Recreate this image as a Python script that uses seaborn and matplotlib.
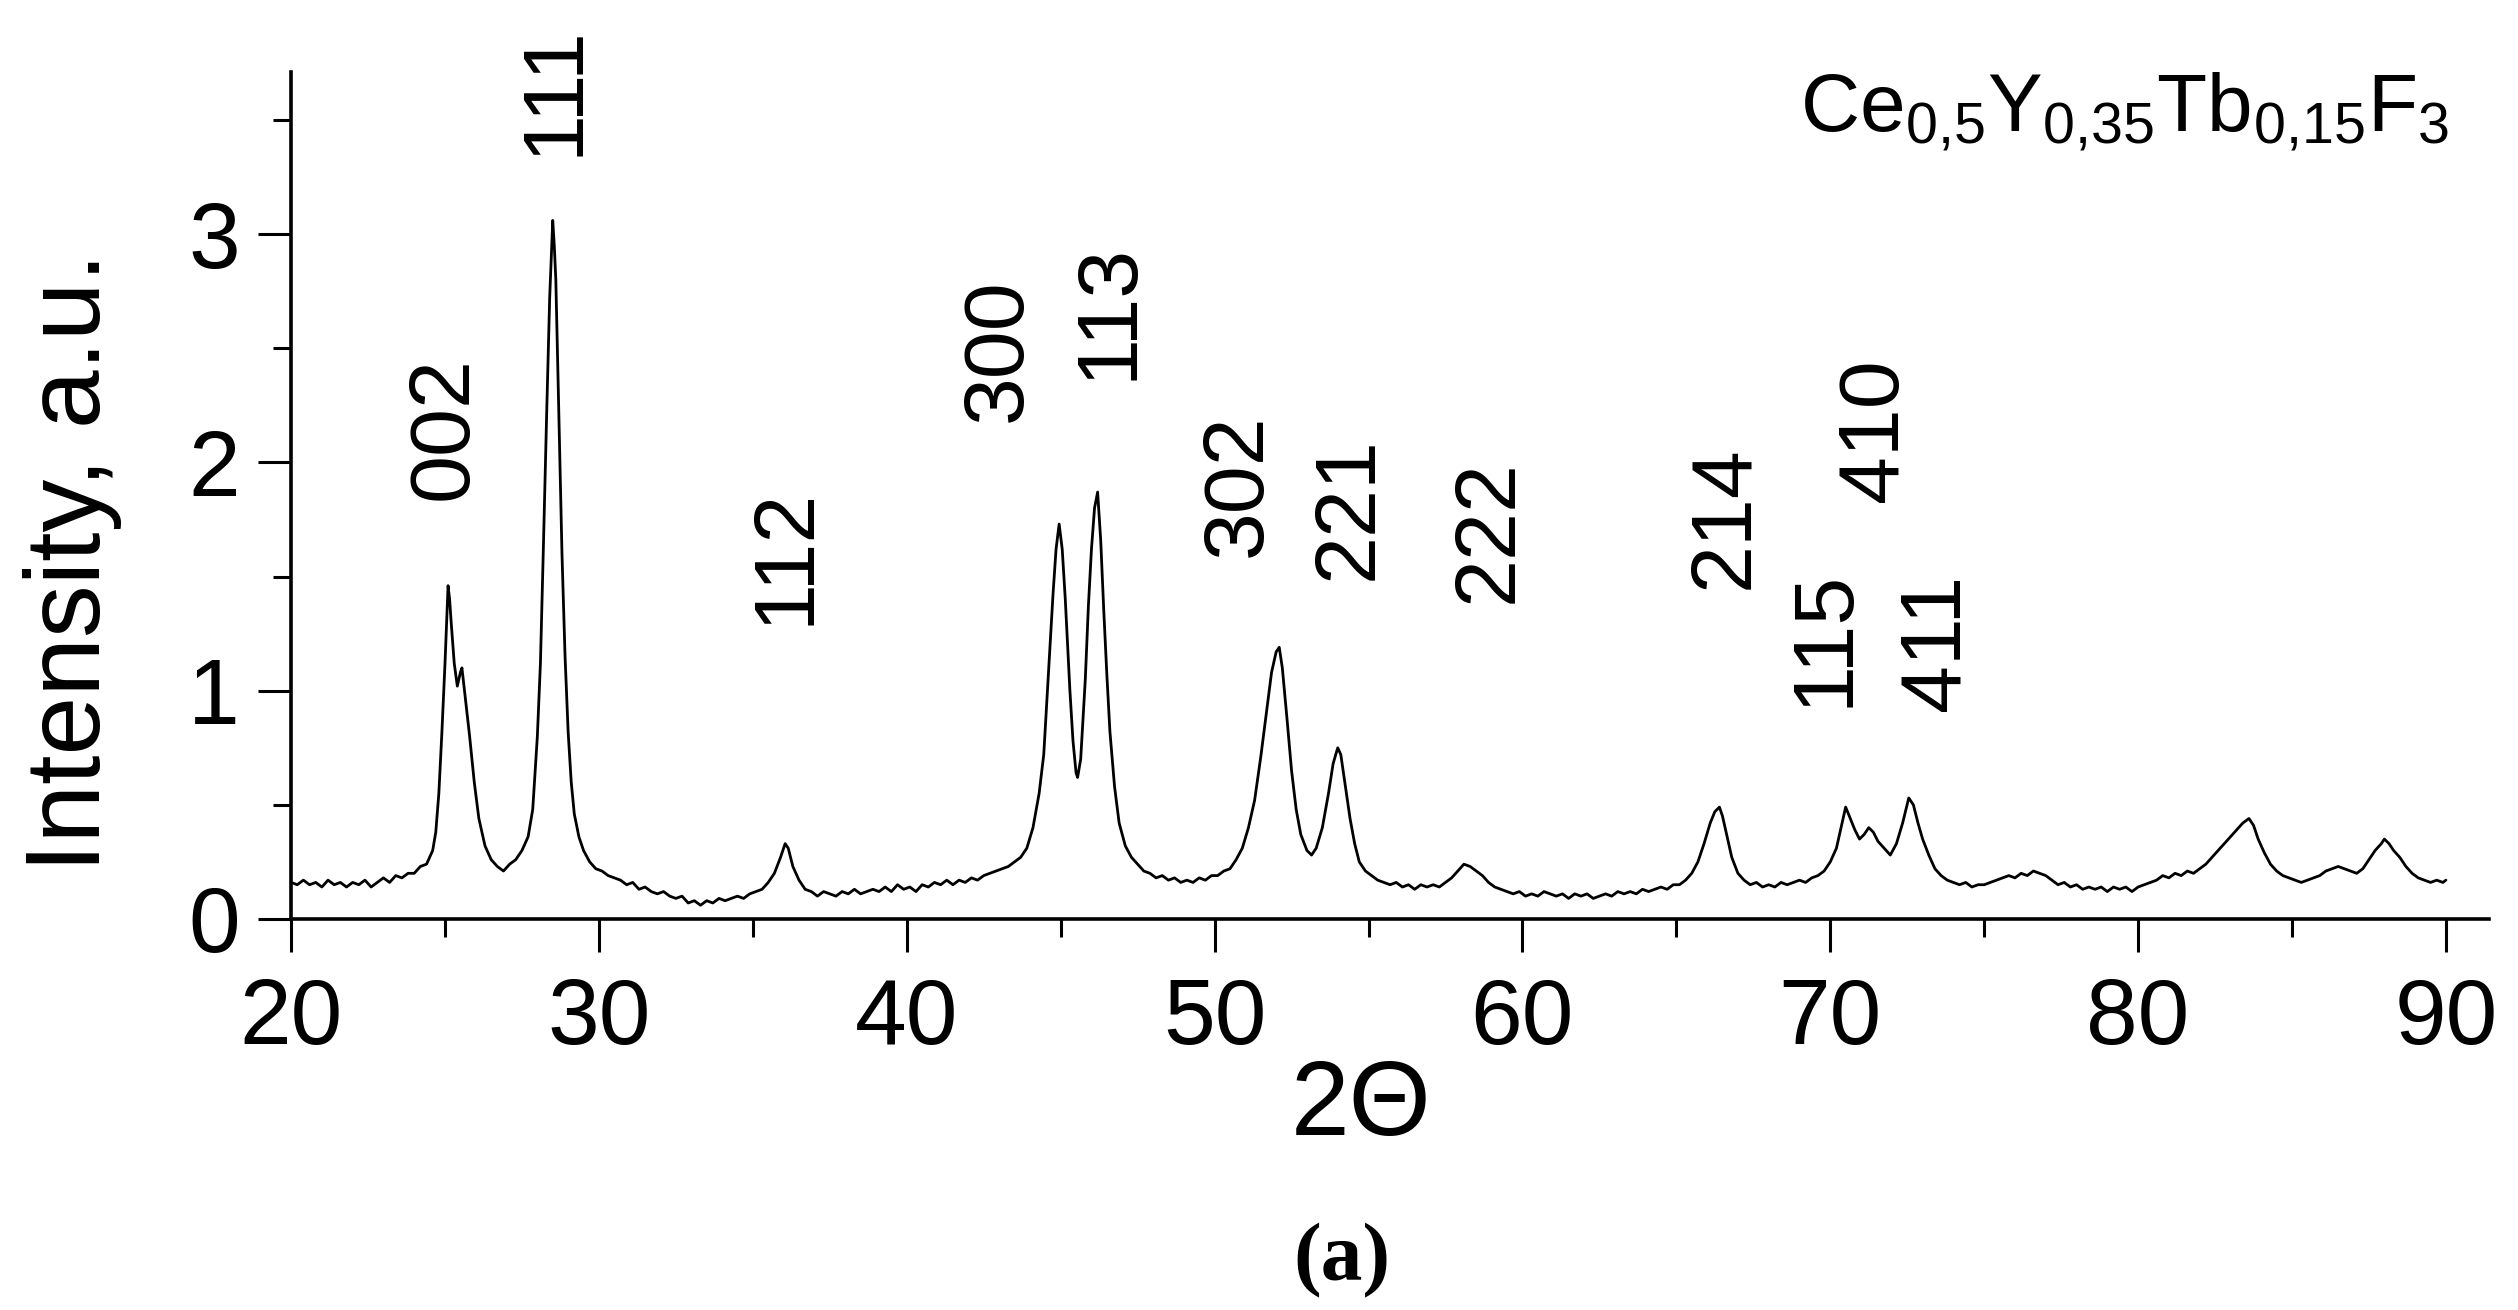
import seaborn as sns
import matplotlib.pyplot as plt
from matplotlib.ticker import MultipleLocator

# XRD pattern (2theta in degrees, intensity in a.u.)
two_theta = [
    # baseline 20-24.6
    20.0, 20.2, 20.4, 20.6, 20.8, 21.0, 21.2, 21.4, 21.6, 21.8, 22.0, 22.2,
    22.4, 22.6, 22.8, 23.0, 23.2, 23.4, 23.6, 23.8, 24.0, 24.2, 24.4, 24.6,
    # 002 doublet
    24.7, 24.8, 24.9, 25.0, 25.1, 25.15, 25.2, 25.3, 25.4, 25.5, 25.55, 25.65,
    25.8, 25.95, 26.1, 26.3, 26.5, 26.7, 26.9,
    # 111
    27.1, 27.3, 27.5, 27.7, 27.85, 28.0, 28.1, 28.2, 28.3, 28.4, 28.5, 28.55,
    28.6, 28.7, 28.8, 28.9, 29.0, 29.1, 29.2, 29.35, 29.5, 29.7, 29.9,
    # baseline 30-35.5
    30.1, 30.3, 30.5, 30.7, 30.9, 31.1, 31.3, 31.5, 31.7, 31.9, 32.1, 32.3,
    32.5, 32.7, 32.9, 33.1, 33.3, 33.5, 33.7, 33.9, 34.1, 34.3, 34.5, 34.7,
    34.9, 35.1, 35.3, 35.5,
    # 112
    35.7, 35.9, 36.05, 36.15, 36.3, 36.5, 36.7, 36.9,
    # baseline 37-44
    37.1, 37.3, 37.5, 37.7, 37.9, 38.1, 38.3, 38.5, 38.7, 38.9, 39.1, 39.3,
    39.5, 39.7, 39.9, 40.1, 40.3, 40.5, 40.7, 40.9, 41.1, 41.3, 41.5, 41.7,
    41.9, 42.1, 42.3, 42.5, 42.7, 42.9, 43.1, 43.3, 43.5, 43.7, 43.9,
    # 300 / 113
    44.1, 44.3, 44.45, 44.6, 44.75, 44.85, 44.95, 45.05, 45.15, 45.3, 45.4,
    45.5, 45.55, 45.65, 45.8, 45.9, 46.0, 46.1, 46.2, 46.3, 46.4, 46.5, 46.6,
    46.75, 46.9, 47.1, 47.3, 47.5, 47.7, 47.9,
    # baseline 48-51
    48.1, 48.3, 48.5, 48.7, 48.9, 49.1, 49.3, 49.5, 49.7, 49.9, 50.1, 50.3,
    50.5, 50.7, 50.9,
    # 302 / 221
    51.1, 51.3, 51.5, 51.7, 51.85, 52.0, 52.1, 52.2, 52.35, 52.5, 52.65, 52.8,
    53.0, 53.15, 53.3, 53.5, 53.7, 53.85, 54.0, 54.1, 54.25, 54.4, 54.55,
    54.7, 54.9,
    # 222 and baseline to 65
    55.1, 55.3, 55.5, 55.7, 55.9, 56.1, 56.3, 56.5, 56.7, 56.9, 57.1, 57.3,
    57.5, 57.7, 57.9, 58.1, 58.3, 58.5, 58.7, 58.9, 59.1, 59.3, 59.5, 59.7,
    59.9, 60.1, 60.3, 60.5, 60.7, 60.9, 61.1, 61.3, 61.5, 61.7, 61.9, 62.1,
    62.3, 62.5, 62.7, 62.9, 63.1, 63.3, 63.5, 63.7, 63.9, 64.1, 64.3, 64.5,
    64.7, 64.9, 65.1, 65.3,
    # 214
    65.5, 65.7, 65.9, 66.1, 66.25, 66.4, 66.5, 66.65, 66.8, 67.0, 67.2,
    # baseline 67-70
    67.4, 67.6, 67.8, 68.0, 68.2, 68.4, 68.6, 68.8, 69.0, 69.2, 69.4, 69.6,
    69.8,
    # 115 / 410 / 411
    70.0, 70.2, 70.35, 70.5, 70.65, 70.8, 70.95, 71.1, 71.25, 71.4, 71.55,
    71.75, 71.95, 72.15, 72.35, 72.55, 72.7, 72.85, 73.0, 73.2, 73.4, 73.6,
    73.8,
    # baseline 74-82
    74.0, 74.2, 74.4, 74.6, 74.8, 75.0, 75.2, 75.4, 75.6, 75.8, 76.0, 76.2,
    76.4, 76.6, 76.8, 77.0, 77.2, 77.4, 77.6, 77.8, 78.0, 78.2, 78.4, 78.6,
    78.8, 79.0, 79.2, 79.4, 79.6, 79.8, 80.0, 80.2, 80.4, 80.6, 80.8, 81.0,
    81.2, 81.4, 81.6, 81.8, 82.0,
    # tail 82-90
    82.2, 82.4, 82.6, 82.8, 83.0, 83.2, 83.4, 83.6, 83.75, 83.9, 84.1, 84.3,
    84.5, 84.7, 84.9, 85.1, 85.3, 85.5, 85.7, 85.9, 86.1, 86.3, 86.5, 86.7,
    86.9, 87.1, 87.3, 87.5, 87.7, 87.9, 88.0, 88.15, 88.3, 88.5, 88.7, 88.9,
    89.1, 89.3, 89.5, 89.7, 89.9, 90.0,
]

intensity = [
    # baseline 20-24.6
    0.16, 0.15, 0.17, 0.15, 0.16, 0.14, 0.17, 0.15, 0.16, 0.14, 0.16, 0.15,
    0.17, 0.14, 0.16, 0.18, 0.16, 0.19, 0.18, 0.20, 0.20, 0.23, 0.24, 0.30,
    # 002 doublet
    0.38, 0.55, 0.82, 1.12, 1.46, 1.40, 1.30, 1.12, 1.02, 1.08, 1.10, 0.98,
    0.80, 0.60, 0.44, 0.32, 0.26, 0.23, 0.21,
    # 111
    0.24, 0.26, 0.30, 0.36, 0.48, 0.80, 1.12, 1.65, 2.20, 2.72, 3.06, 2.95,
    2.80, 2.20, 1.60, 1.15, 0.82, 0.60, 0.46, 0.36, 0.30, 0.25, 0.22,
    # baseline 30-35.5
    0.21, 0.19, 0.18, 0.17, 0.15, 0.16, 0.13, 0.14, 0.12, 0.11, 0.12, 0.10,
    0.09, 0.10, 0.07, 0.08, 0.06, 0.08, 0.07, 0.09, 0.08, 0.09, 0.10, 0.09,
    0.11, 0.12, 0.13, 0.16,
    # 112
    0.20, 0.27, 0.33, 0.31, 0.23, 0.17, 0.13, 0.12,
    # baseline 37-44
    0.10, 0.12, 0.11, 0.10, 0.12, 0.11, 0.13, 0.11, 0.12, 0.13, 0.12, 0.14,
    0.12, 0.15, 0.13, 0.14, 0.12, 0.15, 0.14, 0.16, 0.15, 0.17, 0.15, 0.17,
    0.16, 0.18, 0.17, 0.19, 0.20, 0.21, 0.22, 0.23, 0.25, 0.27, 0.31,
    # 300 / 113
    0.40, 0.55, 0.72, 1.07, 1.42, 1.62, 1.73, 1.62, 1.40, 1.00, 0.78,
    0.64, 0.62, 0.70, 1.05, 1.37, 1.62, 1.80, 1.87, 1.66, 1.35, 1.07, 0.82,
    0.58, 0.42, 0.32, 0.27, 0.24, 0.21, 0.20,
    # baseline 48-51
    0.18, 0.19, 0.17, 0.18, 0.16, 0.17, 0.16, 0.18, 0.17, 0.19, 0.19, 0.21,
    0.22, 0.26, 0.31,
    # 302 / 221
    0.40, 0.52, 0.71, 0.92, 1.08, 1.17, 1.19, 1.10, 0.88, 0.65, 0.48, 0.37,
    0.30, 0.28, 0.31, 0.40, 0.55, 0.68, 0.75, 0.72, 0.58, 0.44, 0.33,
    0.25, 0.21,
    # 222 and baseline to 65
    0.19, 0.17, 0.16, 0.15, 0.16, 0.14, 0.15, 0.13, 0.15, 0.14, 0.15, 0.14,
    0.16, 0.18, 0.21, 0.24, 0.23, 0.21, 0.19, 0.16, 0.14, 0.13, 0.12, 0.11,
    0.12, 0.10, 0.11, 0.10, 0.12, 0.11, 0.10, 0.11, 0.09, 0.11, 0.10, 0.11,
    0.09, 0.10, 0.11, 0.10, 0.12, 0.11, 0.12, 0.11, 0.13, 0.12, 0.13, 0.14,
    0.13, 0.15, 0.15, 0.17,
    # 214
    0.20, 0.25, 0.33, 0.42, 0.47, 0.49, 0.45, 0.36, 0.27, 0.20, 0.17,
    # baseline 67-70
    0.15, 0.16, 0.14, 0.15, 0.14, 0.16, 0.15, 0.16, 0.17, 0.16, 0.18, 0.19,
    0.21,
    # 115 / 410 / 411
    0.25, 0.31, 0.40, 0.49, 0.44, 0.39, 0.35, 0.37, 0.40, 0.38, 0.34,
    0.31, 0.28, 0.33, 0.42, 0.53, 0.50, 0.42, 0.35, 0.28, 0.22, 0.19,
    0.17,
    # baseline 74-82
    0.16, 0.15, 0.16, 0.14, 0.15, 0.15, 0.16, 0.17, 0.18, 0.19, 0.18, 0.20,
    0.19, 0.21, 0.20, 0.19, 0.17, 0.15, 0.16, 0.14, 0.15, 0.13, 0.14, 0.13,
    0.14, 0.12, 0.14, 0.13, 0.14, 0.12, 0.14, 0.15, 0.16, 0.17, 0.19, 0.18,
    0.20, 0.19, 0.21, 0.20, 0.22,
    # tail 82-90
    0.24, 0.27, 0.30, 0.33, 0.36, 0.39, 0.42, 0.44, 0.41, 0.35, 0.29, 0.24,
    0.21, 0.19, 0.18, 0.17, 0.16, 0.17, 0.18, 0.19, 0.21, 0.22, 0.23, 0.22,
    0.21, 0.20, 0.22, 0.26, 0.30, 0.33, 0.35, 0.33, 0.30, 0.27, 0.23, 0.20,
    0.18, 0.17, 0.16, 0.17, 0.16, 0.17,
]

# Miller indices written over the peaks (text centre in data coords)
peak_labels = ['002', '111', '112', '300', '113', '302', '221', '222',
               '214', '115', '410', '411']
label_x = [25.0, 28.6, 36.1, 43.0, 46.6, 50.8, 54.4, 58.95,
           66.6, 69.85, 71.45, 73.45]
label_y = [2.15, 3.63, 1.59, 2.49, 2.66, 1.90, 1.80, 1.70,
           1.76, 1.23, 2.14, 1.21]

sample = r'Ce$_{0{,}5}$Y$_{0{,}35}$Tb$_{0{,}15}$F$_3$'

sns.set_theme(style='ticks')
# set fonts after set_theme, otherwise it gets reset
plt.rcParams['font.family'] = ['Liberation Sans', 'DejaVu Sans']
plt.rcParams['mathtext.default'] = 'regular'

fig = plt.figure(figsize=(25.18, 13.10), dpi=100)
ax = fig.add_axes([0.1156, 0.2985, 0.8729, 0.6465])

sns.lineplot(x=two_theta, y=intensity, ax=ax, color='black',
             linewidth=2.0, estimator=None, sort=False)

ax.set_xlim(20, 91.4)
ax.set_ylim(0, 3.71)
ax.xaxis.set_major_locator(MultipleLocator(10))
ax.xaxis.set_minor_locator(MultipleLocator(5))
ax.yaxis.set_major_locator(MultipleLocator(1))
ax.yaxis.set_minor_locator(MultipleLocator(0.5))

sns.despine(ax=ax)
for side in ['left', 'bottom']:
    ax.spines[side].set_linewidth(2.6)
    ax.spines[side].set_color('black')

ax.tick_params(which='major', direction='out', length=24, width=2.2,
               colors='black', labelsize=67)
ax.tick_params(which='minor', direction='out', length=13, width=2.2,
               colors='black')
ax.tick_params(axis='x', which='major', pad=18)
ax.tick_params(axis='y', which='major', pad=13)

ax.set_xlabel('2Θ', fontsize=76, color='black', va='center')
ax.set_ylabel('Intensity, a.u.', fontsize=76, color='black', va='center')
ax.xaxis.set_label_coords(0.487, -0.223)
ax.yaxis.set_label_coords(-0.0996, 0.4215)

for lab, lx, ly in zip(peak_labels, label_x, label_y):
    ax.text(lx, ly, lab, rotation=90, ha='center', va='center',
            fontsize=62, color='black')

# sample composition, top right
ax.text(90.1, 3.45, sample, ha='right', va='baseline', fontsize=59,
        color='black')

fig.text(0.533, 0.0374, '(a)', ha='center', va='center', fontsize=60,
         fontweight='bold', family='Liberation Serif', color='black')

fig.savefig('out.png', dpi=100, facecolor='white')
